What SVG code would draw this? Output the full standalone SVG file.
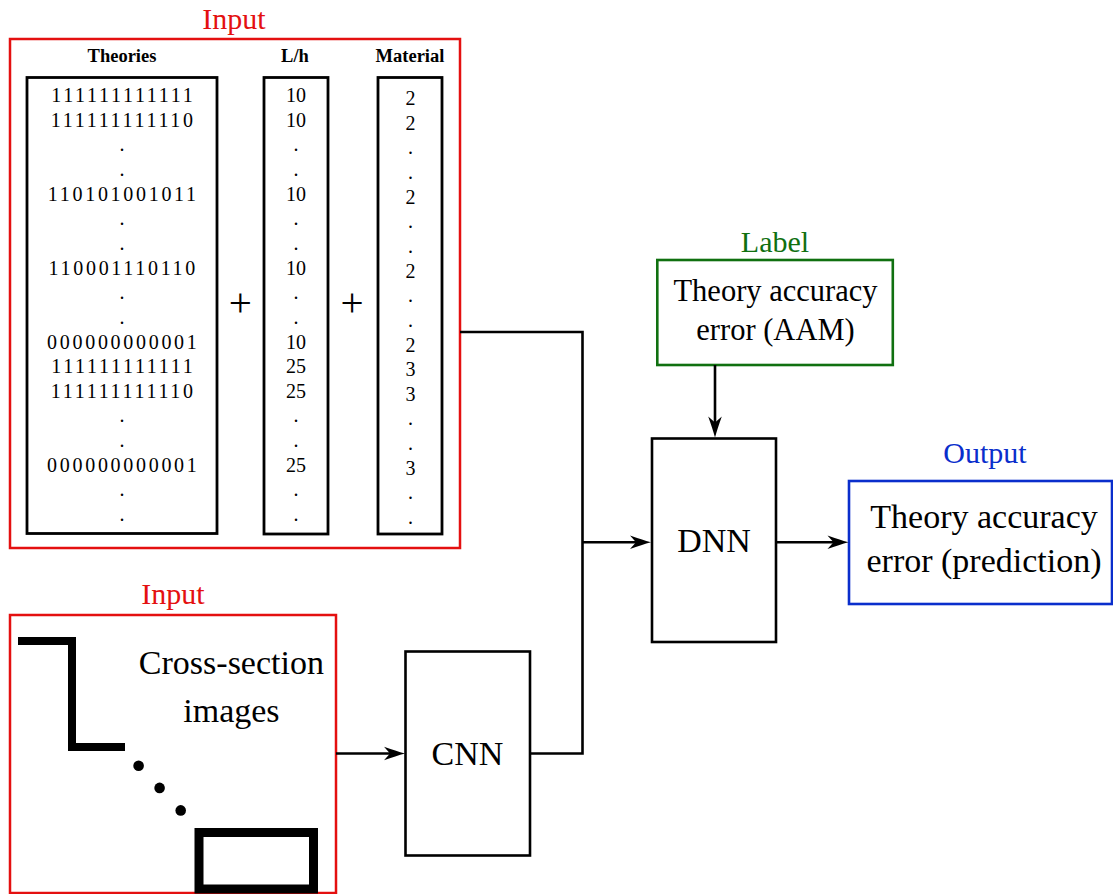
<svg xmlns="http://www.w3.org/2000/svg" width="1113" height="894" viewBox="0 0 1113 894">
<defs>
<style>
text{font-family:"Liberation Serif","Times New Roman",serif;fill:#000}
.title{font-size:30px;text-anchor:middle}
.big{font-size:34px;text-anchor:middle}
.mid{font-size:30.5px;text-anchor:middle}
.head{font-size:18.5px;font-weight:bold;text-anchor:middle}
.cell{font-size:20px;text-anchor:middle}
.bits{letter-spacing:2.7px}
.plus{font-size:41px;text-anchor:middle}
.col{fill:none;stroke:#000;stroke-width:2.8}
.box{fill:#fff;stroke:#000;stroke-width:2.6}
.red{fill:none;stroke:#e41010;stroke-width:2.5}
.conn{fill:none;stroke:#000;stroke-width:2.6}
</style>
<marker id="arr" markerUnits="userSpaceOnUse" viewBox="-22 -8 24 16" markerWidth="24" markerHeight="16" refX="-13" refY="0" orient="auto">
<path d="M0,0 Q-9,-2.5 -21,-6.8 L-15,0 L-21,6.8 Q-9,2.5 0,0 Z" fill="#000"/>
</marker>
</defs>
<rect width="1113" height="894" fill="#fff"/>

<g id="input-table">
<text class="title" x="234" y="29" style="fill:#e41010">Input</text>
<rect class="red" x="10" y="39" width="450" height="509"/>
<text class="head" x="122" y="62">Theories</text>
<text class="head" x="295" y="62">L/h</text>
<text class="head" x="410" y="62">Material</text>
<rect class="col" x="27" y="77.5" width="190" height="456"/>
<rect class="col" x="264" y="77.5" width="64" height="456.5"/>
<rect class="col" x="378" y="77.5" width="64" height="456.5"/>
<g id="theories">
<text class="cell bits" x="123.3" y="102">111111111111</text>
<text class="cell bits" x="123.3" y="127">111111111110</text>
<text class="cell" x="122" y="151">.</text>
<text class="cell" x="122" y="176">.</text>
<text class="cell bits" x="123.3" y="201">110101001011</text>
<text class="cell" x="122" y="225">.</text>
<text class="cell" x="122" y="250">.</text>
<text class="cell bits" x="123.3" y="275">110001110110</text>
<text class="cell" x="122" y="299">.</text>
<text class="cell" x="122" y="324">.</text>
<text class="cell bits" x="123.3" y="349">000000000001</text>
<text class="cell bits" x="123.3" y="373">111111111111</text>
<text class="cell bits" x="123.3" y="398">111111111110</text>
<text class="cell" x="122" y="422">.</text>
<text class="cell" x="122" y="447">.</text>
<text class="cell bits" x="123.3" y="472">000000000001</text>
<text class="cell" x="122" y="496">.</text>
<text class="cell" x="122" y="521">.</text>
</g>
<g id="lh">
<text class="cell" x="296" y="102">10</text>
<text class="cell" x="296" y="127">10</text>
<text class="cell" x="296" y="151">.</text>
<text class="cell" x="296" y="176">.</text>
<text class="cell" x="296" y="201">10</text>
<text class="cell" x="296" y="225">.</text>
<text class="cell" x="296" y="250">.</text>
<text class="cell" x="296" y="275">10</text>
<text class="cell" x="296" y="299">.</text>
<text class="cell" x="296" y="324">.</text>
<text class="cell" x="296" y="349">10</text>
<text class="cell" x="296" y="373">25</text>
<text class="cell" x="296" y="398">25</text>
<text class="cell" x="296" y="422">.</text>
<text class="cell" x="296" y="447">.</text>
<text class="cell" x="296" y="472">25</text>
<text class="cell" x="296" y="496">.</text>
<text class="cell" x="296" y="521">.</text>
</g>
<g id="material">
<text class="cell" x="410.5" y="105">2</text>
<text class="cell" x="410.5" y="130">2</text>
<text class="cell" x="410.5" y="154">.</text>
<text class="cell" x="410.5" y="179">.</text>
<text class="cell" x="410.5" y="204">2</text>
<text class="cell" x="410.5" y="228">.</text>
<text class="cell" x="410.5" y="253">.</text>
<text class="cell" x="410.5" y="278">2</text>
<text class="cell" x="410.5" y="302">.</text>
<text class="cell" x="410.5" y="327">.</text>
<text class="cell" x="410.5" y="352">2</text>
<text class="cell" x="410.5" y="376">3</text>
<text class="cell" x="410.5" y="401">3</text>
<text class="cell" x="410.5" y="425">.</text>
<text class="cell" x="410.5" y="450">.</text>
<text class="cell" x="410.5" y="475">3</text>
<text class="cell" x="410.5" y="499">.</text>
<text class="cell" x="410.5" y="524">.</text>
</g>
<text class="plus" x="240.3" y="316">+</text>
<text class="plus" x="352" y="316">+</text>
</g>

<g id="input-images">
<text class="title" x="173" y="604" style="fill:#e41010">Input</text>
<rect class="red" x="10" y="615" width="326" height="278"/>
<polyline points="18,641 72,641 72,747 125,747" fill="none" stroke="#000" stroke-width="8" stroke-linejoin="miter"/>
<circle cx="138.6" cy="765.7" r="5.3" fill="#000"/>
<circle cx="159.6" cy="787.9" r="5.3" fill="#000"/>
<circle cx="180.7" cy="810.4" r="5.3" fill="#000"/>
<rect x="199" y="832.5" width="114.5" height="56.5" fill="none" stroke="#000" stroke-width="9"/>
<text class="big" x="231.4" y="674">Cross-section</text>
<text class="big" x="231.4" y="722">images</text>
</g>

<g id="cnn">
<rect class="box" x="405.5" y="651.5" width="124.5" height="204"/>
<text class="big" x="467.5" y="765">CNN</text>
</g>

<g id="dnn">
<rect class="box" x="652" y="438.5" width="124" height="203.5"/>
<text class="big" x="714" y="552">DNN</text>
</g>

<g id="label">
<text class="title" x="775" y="252" style="fill:#107010">Label</text>
<rect x="657.3" y="260" width="235.5" height="105" fill="#fff" stroke="#107010" stroke-width="2.6"/>
<text class="mid" x="775.5" y="301">Theory accuracy</text>
<text class="mid" x="775.5" y="339.5">error (AAM)</text>
</g>

<g id="output">
<text class="title" x="985" y="463" style="fill:#0a2ecc">Output</text>
<rect x="849" y="481" width="263" height="123" fill="#fff" stroke="#0a2ecc" stroke-width="2.6"/>
<text class="big" x="984" y="528">Theory accuracy</text>
<text class="big" x="984" y="572">error (prediction)</text>
</g>

<g id="connectors">
<polyline class="conn" points="460,332 582.5,332 582.5,753.5 530,753.5"/>
<line class="conn" x1="582.5" y1="542.3" x2="638" y2="542.3" marker-end="url(#arr)"/>
<line class="conn" x1="336" y1="753.5" x2="392" y2="753.5" marker-end="url(#arr)"/>
<line class="conn" x1="776" y1="542.3" x2="835.5" y2="542.3" marker-end="url(#arr)"/>
<line class="conn" x1="715" y1="365" x2="715" y2="424.5" marker-end="url(#arr)"/>
</g>
</svg>
